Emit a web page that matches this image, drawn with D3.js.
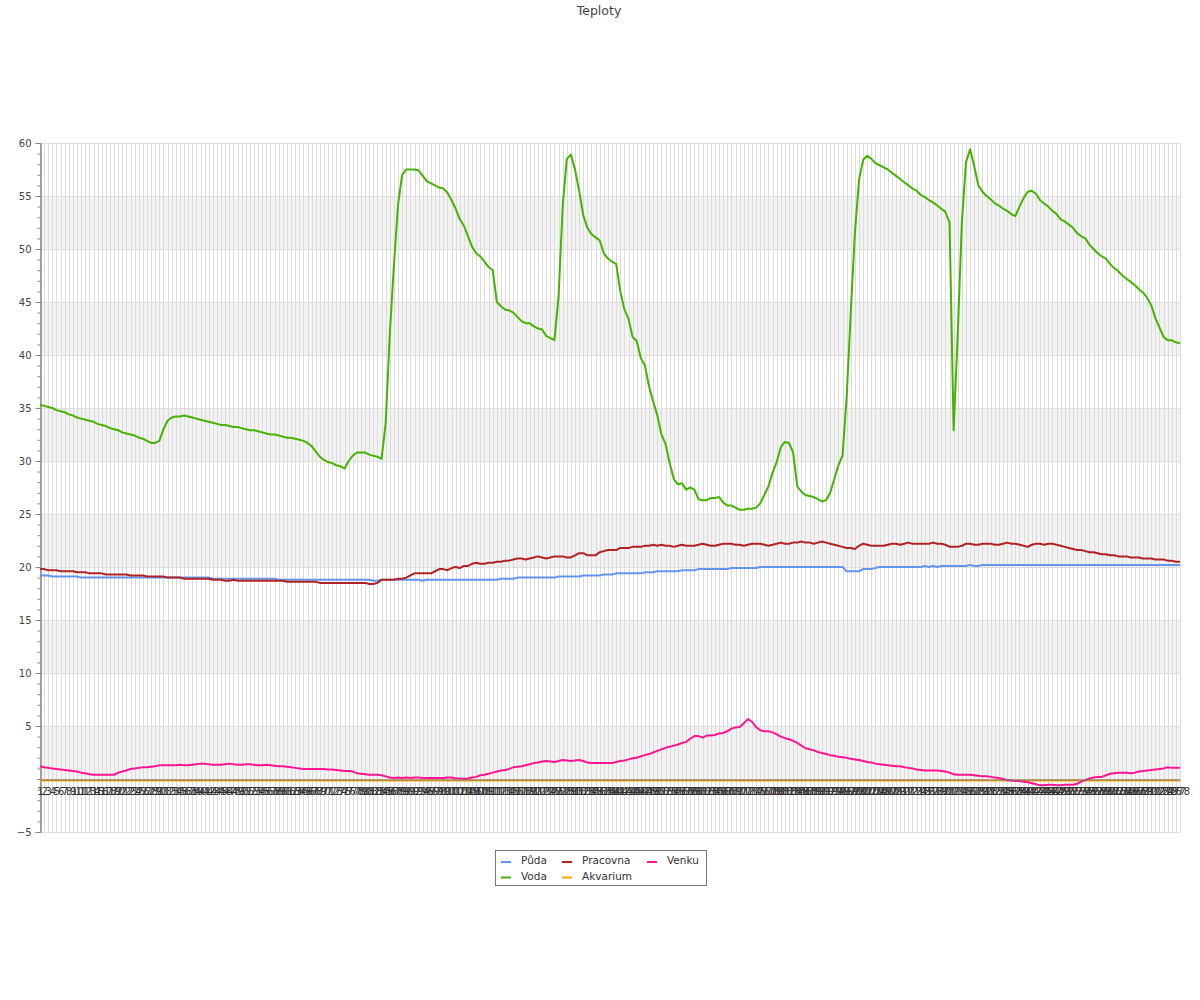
<!DOCTYPE html>
<html><head><meta charset="utf-8">
<script src="https://cdn.jsdelivr.net/npm/d3@7"></script>
<style>body{margin:0;background:#fff;} text{font-family:"DejaVu Sans",sans-serif;}</style>
</head><body><svg id="c" width="1200" height="1000"></svg>
<script>
const title = "Teploty";
const categories = d3.range(1, 279).map(String);
const seriesNames = ["Půda", "Voda", "Pracovna", "Akvarium", "Venku"];
const seriesColors = ["#6495ed", "#46b300", "#b22222", "#ffa500", "#ff1493"];
const yTicks = [-5, 5, 10, 15, 20, 25, 30, 35, 40, 45, 50, 55, 60];

const puda = [
19.2,19.2,19.2,19.1,19.1,19.1,19.1,19.1,19.1,19.1,
19.0,19.0,19.0,19.0,19.0,19.0,19.0,19.0,19.0,19.0,
19.0,19.0,19.0,19.0,19.0,19.0,19.0,19.0,19.0,19.0,
19.0,19.0,19.0,19.0,19.0,19.0,19.0,19.0,19.0,19.0,
19.0,19.0,18.9,18.9,18.9,18.9,18.9,18.9,18.9,18.9,
18.9,18.9,18.9,18.9,18.9,18.9,18.9,18.9,18.8,18.8,
18.8,18.8,18.8,18.8,18.8,18.8,18.8,18.8,18.8,18.8,
18.8,18.8,18.8,18.8,18.8,18.8,18.8,18.8,18.8,18.8,
18.8,18.7,18.7,18.8,18.8,18.8,18.8,18.8,18.8,18.8,
18.8,18.8,18.8,18.7,18.8,18.8,18.8,18.8,18.8,18.8,
18.8,18.8,18.8,18.8,18.8,18.8,18.8,18.8,18.8,18.8,
18.8,18.8,18.9,18.9,18.9,18.9,19.0,19.0,19.0,19.0,
19.0,19.0,19.0,19.0,19.0,19.0,19.1,19.1,19.1,19.1,
19.1,19.1,19.2,19.2,19.2,19.2,19.2,19.3,19.3,19.3,
19.4,19.4,19.4,19.4,19.4,19.4,19.4,19.5,19.5,19.5,
19.6,19.6,19.6,19.6,19.6,19.6,19.7,19.7,19.7,19.7,
19.8,19.8,19.8,19.8,19.8,19.8,19.8,19.8,19.9,19.9,
19.9,19.9,19.9,19.9,19.9,20.0,20.0,20.0,20.0,20.0,
20.0,20.0,20.0,20.0,20.0,20.0,20.0,20.0,20.0,20.0,
20.0,20.0,20.0,20.0,20.0,20.0,19.6,19.6,19.6,19.6,
19.8,19.8,19.8,19.9,20.0,20.0,20.0,20.0,20.0,20.0,
20.0,20.0,20.0,20.0,20.0,20.1,20.0,20.1,20.0,20.1,
20.1,20.1,20.1,20.1,20.1,20.1,20.2,20.1,20.1,20.2,
20.2,20.2,20.2,20.2,20.2,20.2,20.2,20.2,20.2,20.2,
20.2,20.2,20.2,20.2,20.2,20.2,20.2,20.2,20.2,20.2,
20.2,20.2,20.2,20.2,20.2,20.2,20.2,20.2,20.2,20.2,
20.2,20.2,20.2,20.2,20.2,20.2,20.2,20.2,20.2,20.2,
20.2,20.2,20.2,20.2,20.2,20.2,20.2,20.2
];

const voda = [
35.3,35.2,35.1,35.0,34.8,34.7,34.6,34.4,34.3,34.1,
34.0,33.9,33.8,33.7,33.5,33.4,33.3,33.1,33.0,32.9,
32.7,32.6,32.5,32.4,32.2,32.1,31.9,31.7,31.7,31.9,
33.0,33.8,34.1,34.2,34.2,34.3,34.2,34.1,34.0,33.9,
33.8,33.7,33.6,33.5,33.4,33.4,33.3,33.2,33.2,33.1,
33.0,32.9,32.9,32.8,32.7,32.6,32.5,32.5,32.4,32.3,
32.2,32.2,32.1,32.0,31.9,31.7,31.4,30.9,30.4,30.1,
29.9,29.8,29.6,29.5,29.3,30.0,30.5,30.8,30.8,30.8,
30.6,30.5,30.4,30.2,33.6,42.0,48.5,54.2,57.0,57.5,
57.5,57.5,57.4,56.9,56.4,56.2,56.0,55.8,55.7,55.3,
54.6,53.8,52.8,52.2,51.2,50.2,49.6,49.3,48.8,48.3,
48.0,45.0,44.6,44.3,44.2,44.0,43.6,43.2,43.0,43.0,
42.7,42.5,42.4,41.8,41.6,41.4,45.5,54.0,58.5,58.9,
57.5,55.5,53.2,52.0,51.4,51.1,50.8,49.6,49.1,48.8,
48.6,46.0,44.3,43.4,41.7,41.3,39.7,39.0,37.0,35.6,
34.3,32.5,31.6,29.8,28.3,27.8,27.9,27.3,27.5,27.3,
26.4,26.3,26.3,26.5,26.5,26.6,26.1,25.8,25.8,25.6,
25.4,25.4,25.5,25.5,25.6,26.0,26.8,27.6,28.9,29.9,
31.3,31.8,31.7,30.8,27.6,27.1,26.8,26.7,26.6,26.4,
26.2,26.3,27.0,28.3,29.6,30.5,36.0,44.0,51.5,56.5,
58.4,58.8,58.5,58.1,57.9,57.7,57.5,57.2,56.9,56.6,
56.3,56.0,55.7,55.5,55.1,54.9,54.6,54.4,54.1,53.8,
53.5,52.5,32.9,42.0,52.5,58.2,59.4,57.8,56.0,55.4,
55.0,54.7,54.3,54.1,53.8,53.6,53.3,53.1,54.0,54.8,
55.4,55.5,55.2,54.6,54.3,54.0,53.6,53.3,52.8,52.6,
52.3,52.0,51.5,51.2,51.0,50.4,50.0,49.6,49.3,49.1,
48.6,48.2,47.9,47.5,47.2,46.9,46.6,46.2,45.9,45.4,
44.7,43.5,42.6,41.7,41.4,41.4,41.2,41.1
];

const pracovna = [
19.8,19.8,19.7,19.7,19.7,19.6,19.6,19.6,19.6,19.5,
19.5,19.5,19.4,19.4,19.4,19.4,19.3,19.3,19.3,19.3,
19.3,19.3,19.2,19.2,19.2,19.2,19.1,19.1,19.1,19.1,
19.1,19.0,19.0,19.0,19.0,18.9,18.9,18.9,18.9,18.9,
18.9,18.9,18.8,18.8,18.8,18.7,18.7,18.8,18.7,18.7,
18.7,18.7,18.7,18.7,18.7,18.7,18.7,18.7,18.7,18.7,
18.6,18.6,18.6,18.6,18.6,18.6,18.6,18.6,18.5,18.5,
18.5,18.5,18.5,18.5,18.5,18.5,18.5,18.5,18.5,18.5,
18.4,18.4,18.5,18.8,18.8,18.8,18.8,18.9,18.9,19.0,
19.2,19.4,19.4,19.4,19.4,19.4,19.6,19.8,19.8,19.7,
19.9,20.0,19.9,20.1,20.1,20.3,20.4,20.3,20.3,20.4,
20.4,20.5,20.5,20.6,20.6,20.7,20.8,20.8,20.7,20.8,
20.9,21.0,20.9,20.8,20.9,21.0,21.0,21.0,20.9,20.9,
21.1,21.3,21.3,21.1,21.1,21.1,21.4,21.5,21.6,21.6,
21.6,21.8,21.8,21.8,21.9,21.9,21.9,22.0,22.0,22.1,
22.0,22.1,22.0,22.0,21.9,22.0,22.1,22.0,22.0,22.0,
22.1,22.2,22.1,22.0,22.0,22.1,22.2,22.2,22.2,22.1,
22.1,22.0,22.1,22.2,22.2,22.2,22.1,22.0,22.1,22.2,
22.3,22.2,22.2,22.3,22.3,22.4,22.3,22.3,22.2,22.3,
22.4,22.3,22.2,22.1,22.0,21.9,21.8,21.8,21.7,22.0,
22.2,22.1,22.0,22.0,22.0,22.0,22.1,22.2,22.2,22.1,
22.2,22.3,22.2,22.2,22.2,22.2,22.2,22.3,22.2,22.2,
22.1,21.9,21.9,21.9,22.0,22.2,22.2,22.1,22.1,22.2,
22.2,22.2,22.1,22.1,22.2,22.3,22.2,22.2,22.1,22.0,
21.9,22.1,22.2,22.2,22.1,22.2,22.2,22.1,22.0,21.9,
21.8,21.7,21.6,21.6,21.5,21.4,21.4,21.3,21.2,21.2,
21.1,21.1,21.0,21.0,21.0,20.9,20.9,20.9,20.8,20.8,
20.8,20.7,20.7,20.7,20.6,20.6,20.5,20.5
];

const akvarium = [
0,0,0,0,0,0,0,0,0,0, 0,0,0,0,0,0,0,0,0,0, 0,0,0,0,0,0,0,0,0,0,
0,0,0,0,0,0,0,0,0,0, 0,0,0,0,0,0,0,0,0,0, 0,0,0,0,0,0,0,0,0,0,
0,0,0,0,0,0,0,0,0,0, 0,0,0,0,0,0,0,0,0,0, 0,0,0,0,0,0,0,0,0,0,
0,0,0,0,0,0,0,0,0,0, 0,0,0,0,0,0,0,0,0,0, 0,0,0,0,0,0,0,0,0,0,
0,0,0,0,0,0,0,0,0,0, 0,0,0,0,0,0,0,0,0,0, 0,0,0,0,0,0,0,0,0,0,
0,0,0,0,0,0,0,0,0,0, 0,0,0,0,0,0,0,0,0,0, 0,0,0,0,0,0,0,0,0,0,
0,0,0,0,0,0,0,0,0,0, 0,0,0,0,0,0,0,0,0,0, 0,0,0,0,0,0,0,0,0,0,
0,0,0,0,0,0,0,0,0,0, 0,0,0,0,0,0,0,0,0,0, 0,0,0,0,0,0,0,0,0,0,
0,0,0,0,0,0,0,0,0,0, 0,0,0,0,0,0,0,0,0,0, 0,0,0,0,0,0,0,0,0,0,
0,0,0,0,0,0,0,0,0,0, 0,0,0,0,0,0,0,0
];

const venku = [
1.2,1.1,1.05,1.0,0.95,0.9,0.85,0.8,0.75,0.7,
0.6,0.55,0.45,0.4,0.4,0.4,0.4,0.4,0.4,0.6,
0.7,0.8,0.95,1.0,1.05,1.1,1.1,1.15,1.2,1.3,
1.3,1.3,1.3,1.3,1.35,1.3,1.3,1.35,1.4,1.45,
1.45,1.4,1.35,1.35,1.35,1.4,1.45,1.4,1.35,1.35,
1.4,1.4,1.35,1.3,1.3,1.35,1.3,1.25,1.2,1.2,
1.15,1.1,1.05,1.0,0.95,0.95,0.95,0.95,0.95,0.95,
0.9,0.9,0.85,0.8,0.75,0.75,0.7,0.55,0.5,0.45,
0.4,0.4,0.4,0.35,0.25,0.15,0.1,0.15,0.1,0.15,
0.1,0.15,0.15,0.1,0.1,0.1,0.1,0.1,0.1,0.15,
0.15,0.05,0.05,0.0,0.05,0.15,0.2,0.35,0.4,0.5,
0.6,0.7,0.8,0.85,0.95,1.1,1.15,1.2,1.3,1.4,
1.5,1.55,1.65,1.7,1.65,1.6,1.7,1.8,1.75,1.7,
1.75,1.8,1.7,1.55,1.5,1.5,1.5,1.5,1.5,1.5,
1.6,1.7,1.75,1.85,1.95,2.0,2.15,2.25,2.35,2.5,
2.65,2.8,2.95,3.05,3.15,3.25,3.4,3.5,3.8,4.05,
4.05,3.9,4.1,4.1,4.15,4.3,4.35,4.5,4.75,4.85,
4.9,5.25,5.65,5.4,4.9,4.6,4.5,4.5,4.4,4.2,
4.0,3.85,3.75,3.6,3.4,3.15,2.9,2.8,2.7,2.55,
2.45,2.35,2.25,2.2,2.1,2.05,2.0,1.9,1.85,1.8,
1.7,1.6,1.55,1.45,1.4,1.35,1.3,1.25,1.2,1.2,
1.1,1.05,1.0,0.9,0.85,0.8,0.8,0.8,0.8,0.75,
0.7,0.6,0.45,0.4,0.4,0.4,0.4,0.35,0.3,0.25,
0.25,0.2,0.15,0.1,0.0,-0.1,-0.15,-0.2,-0.2,-0.25,
-0.3,-0.4,-0.5,-0.6,-0.6,-0.55,-0.55,-0.6,-0.6,-0.55,
-0.55,-0.55,-0.45,-0.25,-0.1,0.05,0.15,0.2,0.2,0.35,
0.5,0.55,0.6,0.6,0.6,0.55,0.6,0.7,0.75,0.8,
0.85,0.9,0.95,1.0,1.1,1.05,1.05,1.05
];

const seriesData = [puda, voda, pracovna, akvarium, venku];

const svg = d3.select("#c");
const L = 40, R = 1180, T = 143, B = 832;
const x = d3.scalePoint().domain(categories).range([L, R]);
const y = d3.scaleLinear().domain([-5, 60]).range([B, T]);

// title
svg.append("text").attr("x", 599).attr("y", 15).attr("text-anchor", "middle")
  .attr("font-size", "12.5px").attr("fill", "#444").text(title);

// shaded bands
const bands = [[0,5],[10,15],[20,25],[30,35],[40,45],[50,55]];
svg.append("g").selectAll("rect").data(bands).join("rect")
  .attr("x", L).attr("width", R - L)
  .attr("y", d => y(d[1])).attr("height", d => y(d[0]) - y(d[1]))
  .attr("fill", "#f2f2f2");

// vertical grid
svg.append("g").selectAll("line").data(categories).join("line")
  .attr("x1", d => Math.round(x(d)) + 0.5).attr("x2", d => Math.round(x(d)) + 0.5)
  .attr("y1", T).attr("y2", B).attr("stroke", "#dcdcdc").attr("stroke-width", 1);

// horizontal grid
svg.append("g").selectAll("line").data(d3.range(-5, 61, 5)).join("line")
  .attr("x1", L).attr("x2", R)
  .attr("y1", d => Math.round(y(d)) + 0.5).attr("y2", d => Math.round(y(d)) + 0.5)
  .attr("stroke", "#dedede");

// y axis minor
const yMinor = svg.append("g").attr("transform", `translate(${L + 0.5},0)`)
  .call(d3.axisLeft(y).tickValues(d3.range(-5, 61, 1)).tickSize(3).tickFormat(""));
// y axis major
const yMajor = svg.append("g").attr("transform", `translate(${L + 0.5},0)`)
  .call(d3.axisLeft(y).tickValues(yTicks).tickSize(5).tickPadding(4));
[yMinor, yMajor].forEach(g => {
  g.select(".domain").attr("stroke", "#888");
  g.selectAll(".tick line").attr("stroke", "#888");
  g.selectAll("text").attr("font-size", "10px").attr("fill", "#444").attr("font-family", "DejaVu Sans");
});

// series lines
const line = d3.line().x((d, i) => x(categories[i])).y(d => y(d));
seriesData.forEach((arr, k) => {
  svg.append("path").datum(arr).attr("d", line)
    .attr("fill", "none").attr("stroke", seriesColors[k]).attr("stroke-width", 2)
    .attr("stroke-linejoin", "round")
    .attr("transform", seriesNames[k] === "Akvarium" ? "translate(0,1.5)" : null);
});

// x axis at zero
const xAxis = svg.append("g").attr("transform", `translate(0,${Math.round(y(0)) + 0.5})`)
  .call(d3.axisBottom(x).tickSize(0).tickPadding(8));
xAxis.select(".domain").attr("stroke", "#777");
xAxis.selectAll("text").attr("font-size", "10px").attr("fill", "#333").attr("font-family", "DejaVu Sans");

// legend
const lg = svg.append("g");
lg.append("rect").attr("x", 495.5).attr("y", 850.5).attr("width", 211).attr("height", 35)
  .attr("fill", "#fff").attr("stroke", "#777");
const legendPos = [
  {mx: 501, tx: 521, my: 862},
  {mx: 501, tx: 521, my: 877.5},
  {mx: 562, tx: 582, my: 862},
  {mx: 562, tx: 582, my: 877.5},
  {mx: 647, tx: 667, my: 862}
];
seriesNames.forEach((n, k) => {
  const p = legendPos[k];
  lg.append("line").attr("x1", p.mx).attr("x2", p.mx + 10).attr("y1", p.my).attr("y2", p.my)
    .attr("stroke", seriesColors[k]).attr("stroke-width", 2);
  lg.append("text").attr("x", p.tx).attr("y", p.my + 2).attr("font-size", "10.5px")
    .attr("fill", "#333").text(n);
});
</script></body></html>
